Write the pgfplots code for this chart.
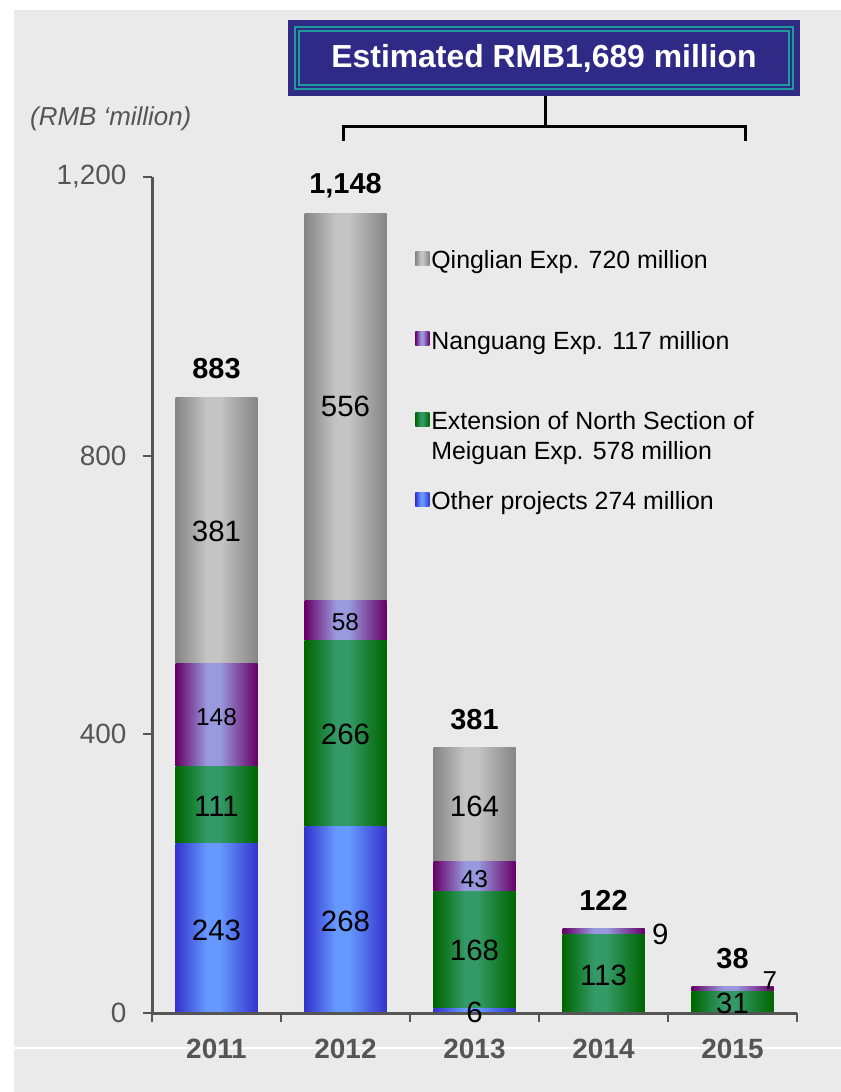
\documentclass[border=0pt]{standalone}
\usepackage{fontspec}
\setmainfont{Liberation Sans}
\usepackage{pgfplots}
\pgfplotsset{compat=1.18}

\definecolor{bg}{HTML}{EAEAEA}
\definecolor{axgray}{HTML}{555555}
\definecolor{navy}{HTML}{2E2A86}
\definecolor{tealline}{HTML}{1F9A9A}
\definecolor{qE}{HTML}{858585}\definecolor{qM}{HTML}{C4C4C4}
\definecolor{nE}{HTML}{660066}\definecolor{nM}{HTML}{9999DD}
\definecolor{eE}{HTML}{006600}\definecolor{eM}{HTML}{339966}
\definecolor{oE}{HTML}{3333CC}\definecolor{oM}{HTML}{6699FF}

\pgfdeclarehorizontalshading{qsh}{100bp}{color(0bp)=(qE); color(25bp)=(qE); color(44bp)=(qM); color(52bp)=(qM); color(75bp)=(qE); color(100bp)=(qE)}
\pgfdeclarehorizontalshading{nsh}{100bp}{color(0bp)=(nE); color(25bp)=(nE); color(44bp)=(nM); color(52bp)=(nM); color(75bp)=(nE); color(100bp)=(nE)}
\pgfdeclarehorizontalshading{esh}{100bp}{color(0bp)=(eE); color(25bp)=(eE); color(44bp)=(eM); color(52bp)=(eM); color(75bp)=(eE); color(100bp)=(eE)}
\pgfdeclarehorizontalshading{osh}{100bp}{color(0bp)=(oE); color(25bp)=(oE); color(44bp)=(oM); color(52bp)=(oM); color(75bp)=(oE); color(100bp)=(oE)}

\tikzset{
  oth/.style={draw=none, shade, shading=osh},
  ext/.style={draw=none, shade, shading=esh},
  nan/.style={draw=none, shade, shading=nsh},
  qin/.style={draw=none, shade, shading=qsh},
}
\pgfplotsset{
  frame/.style={
    at={(152bp,-1013bp)}, anchor=south west,
    scale only axis, width=645bp, height=836bp,
    xmin=-0.5, xmax=4.5, ymin=0, ymax=1200, clip=false},
  barax/.style={frame, hide axis, ybar stacked, bar width=82bp},
}

\newcommand{\seg}[4][29.5]{\node[font=\fontsize{#1}{#1}\selectfont] at (axis cs:#2,#3) {#4};}
\newcommand{\tot}[3]{\node[font=\bfseries\fontsize{29}{29}\selectfont] at (axis cs:#1,#2) {#3};}

\begin{document}
\begin{tikzpicture}
\fill[white] (0,0) rectangle (841bp,-1092bp);
\fill[bg] (14bp,-10bp) rectangle (841bp,-1092bp);
\draw[white, line width=1.5bp] (14bp,-1048bp) -- (841bp,-1048bp);

\node[anchor=base west, text=axgray, font=\itshape\fontsize{26}{30}\selectfont, inner sep=0pt]
  at (30bp,-125bp) {(RMB ‘million)};

% one axis per year so that every bar gets its own shading
% stack: other projects, Meiguan ext., Nanguang, Qinglian
\begin{axis}[barax]
\addplot[oth] coordinates {(0,243)};
\addplot[ext] coordinates {(0,111)};
\addplot[nan] coordinates {(0,148)};
\addplot[qin] coordinates {(0,381)};
\end{axis}
\begin{axis}[barax]
\addplot[oth] coordinates {(1,268)};
\addplot[ext] coordinates {(1,266)};
\addplot[nan] coordinates {(1,58)};
\addplot[qin] coordinates {(1,556)};
\end{axis}
\begin{axis}[barax]
\addplot[oth] coordinates {(2,6)};
\addplot[ext] coordinates {(2,168)};
\addplot[nan] coordinates {(2,43)};
\addplot[qin] coordinates {(2,164)};
\end{axis}
\begin{axis}[barax]
\addplot[ext] coordinates {(3,113)};
\addplot[nan] coordinates {(3,9)};
\end{axis}
\begin{axis}[barax]
\addplot[ext] coordinates {(4,31)};
\addplot[nan] coordinates {(4,7)};
\end{axis}

% axis lines, ticks, legend and labels on top
\begin{axis}[
  frame,
  axis lines*=left,
  axis line style={draw=axgray, line width=3bp},
  tick align=outside,
  major tick length=9bp,
  tick style={draw=axgray, line width=2bp},
  xtick={-0.5,0.5,...,4.5}, xticklabels={},
  extra x ticks={0,1,2,3,4},
  extra x tick labels={2011,2012,2013,2014,2015},
  extra x tick style={major tick length=0pt,
    tick label style={text=axgray, font=\bfseries\fontsize{28}{28}\selectfont, yshift=-22bp}},
  ytick={0,400,800,1200},
  yticklabel style={text=axgray, font=\fontsize{28}{28}\selectfont, xshift=-13bp},
  /pgf/number format/assume math mode=true,
  /pgf/number format/1000 sep={,},
  legend style={draw=none, fill=none, at={(0.408,0.911)}, anchor=north west,
    font=\fontsize{25}{30}\selectfont, row sep=59.5bp, inner sep=0pt},
  legend cell align=left,
]
\addlegendimage{qin, legend image code/.code={\path[qin] (0bp,4bp) rectangle (14bp,18bp);}}
\addlegendentry{\raisebox{0pt}[0pt][0pt]{Qinglian Exp. 720 million}}
\addlegendimage{nan, legend image code/.code={\path[nan] (0bp,4bp) rectangle (14bp,18bp);}}
\addlegendentry{\raisebox{0pt}[0pt][0pt]{Nanguang Exp. 117 million}}
\addlegendimage{ext, legend image code/.code={\path[ext] (0bp,4bp) rectangle (14bp,18bp);}}
\addlegendentry{\raisebox{0pt}[0pt][0pt]{\begin{tabular}[t]{@{}l@{}}Extension of North Section of\\Meiguan Exp. 578 million\end{tabular}}}
\addlegendimage{oth, legend image code/.code={\path[oth] (0bp,4bp) rectangle (14bp,18bp);}}
\addlegendentry{\raisebox{0pt}[0pt][0pt]{Other projects 274 million}}

% segment labels
\seg{0}{119}{243}\seg{0}{297}{111}\seg[24.5]{0}{425}{148}\seg{0}{692}{381}
\seg{1}{131}{268}\seg{1}{400}{266}\seg[24.5]{1}{561}{58}\seg{1}{871}{556}
\seg{2}{0.7}{6}\seg{2}{90}{168}\seg[24.5]{2}{192}{43}\seg{2}{296}{164}
\seg{3}{54.5}{113}\seg{3.44}{113}{9}
\seg{4}{14}{31}\seg[26]{4.29}{46}{7}
% totals
\tot{0}{925}{883}\tot{1}{1188}{1,148}\tot{2}{420.5}{381}\tot{3}{162}{122}\tot{4}{77.5}{38}
\end{axis}

% summary box and bracket
\fill[navy] (288bp,-20bp) rectangle (800bp,-96bp);
\draw[tealline, line width=1.5bp] (295bp,-27bp) rectangle (793bp,-89bp);
\draw[tealline, line width=1.5bp] (299bp,-31bp) rectangle (789bp,-85bp);
\node[text=white, font=\bfseries\fontsize{32}{32}\selectfont] at (544bp,-58bp) {Estimated RMB1,689 million};
\draw[black, line width=3bp] (545bp,-96bp) -- (545bp,-126bp);
\draw[black, line width=3bp] (343bp,-141bp) -- (343bp,-126bp) -- (745bp,-126bp) -- (745bp,-141bp);

\pgfresetboundingbox
\path (0,0) rectangle (841bp,-1092bp);
\end{tikzpicture}
\end{document}
